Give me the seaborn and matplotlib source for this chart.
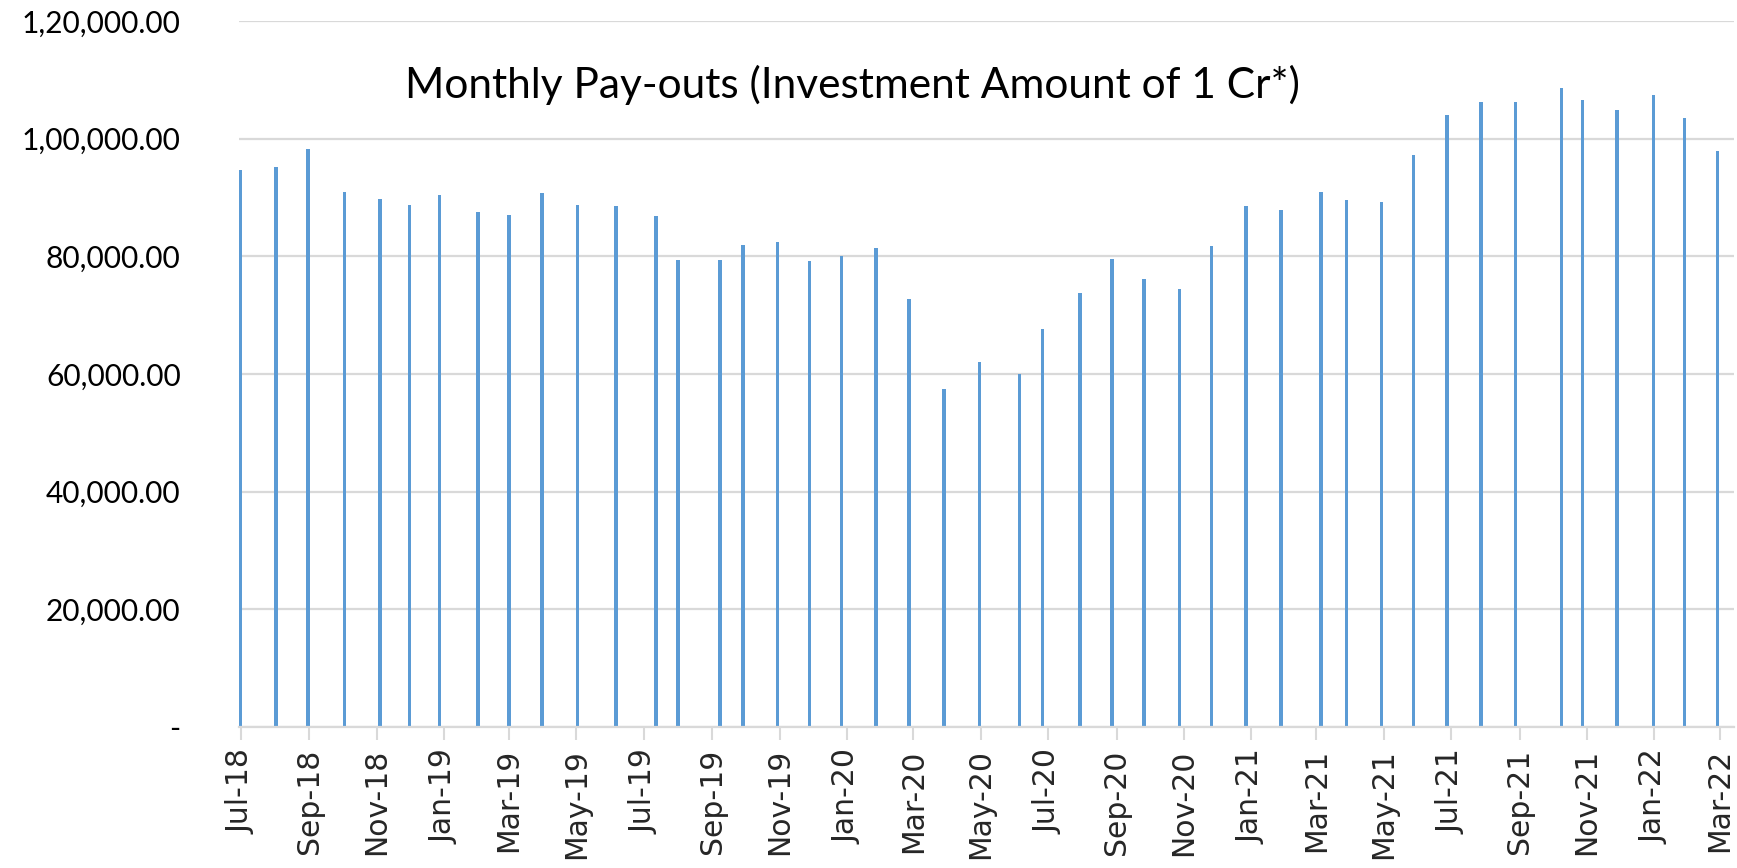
import numpy as np
import pandas as pd
import matplotlib
matplotlib.use("Agg")
import matplotlib.pyplot as plt
import matplotlib.dates as mdates
import seaborn as sns

# ---- data ----
pay_dates = [
    "2018-07-01", "2018-08-02", "2018-08-31", "2018-10-03", "2018-11-04", "2018-12-01",
    "2018-12-28", "2019-02-01", "2019-03-01", "2019-03-31", "2019-05-02", "2019-06-06",
    "2019-07-12", "2019-08-01", "2019-09-08", "2019-09-29", "2019-10-30", "2019-11-28",
    "2019-12-27", "2020-01-27", "2020-02-26", "2020-03-29", "2020-04-30", "2020-06-05",
    "2020-06-26", "2020-07-30", "2020-08-28", "2020-09-26", "2020-10-28", "2020-11-26",
    "2020-12-27", "2021-01-28", "2021-03-05", "2021-03-28", "2021-04-29", "2021-05-28",
    "2021-06-27", "2021-07-28", "2021-08-28", "2021-10-09", "2021-10-28", "2021-11-28",
    "2021-12-31", "2022-01-28", "2022-02-27",
]
payouts = [
    94600, 95200, 98200, 91000, 89700, 88700,
    90500, 87500, 87100, 90800, 88800, 88500,
    86900, 79400, 79400, 82000, 82500, 79200,
    80000, 81500, 72700, 57500, 62000, 60000,
    67600, 73800, 79600, 76200, 74500, 81800,
    88500, 87900, 91000, 89500, 89300, 97200,
    104000, 106300, 106300, 108600, 106500, 104800,
    107500, 103500, 97900,
]
y_ticks = [0, 20000, 40000, 60000, 80000, 100000, 120000]
y_tick_labels = ["-", "20,000.00", "40,000.00", "60,000.00", "80,000.00",
                 "1,00,000.00", "1,20,000.00"]
title_text = "Monthly Pay-outs (Investment Amount of 1 Cr*)"
axis_start = "2018-07-01"
axis_end = "2022-03-14"

# ---- build frame ----
dates = pd.to_datetime(pay_dates)
df = pd.DataFrame({"x": mdates.date2num(dates.to_pydatetime()), "payout": payouts})

sns.set_theme(style="white")
plt.rcParams["font.family"] = ["DejaVu Sans"]

W, H, DPI = 1737, 868, 100
fig = plt.figure(figsize=(W / DPI, H / DPI), dpi=DPI)
ax = fig.add_axes([239 / W, 1 - 727 / H, (1734 - 239) / W, (727 - 21) / H])

min_gap = np.min(np.diff(np.sort(df["x"].values)))
bar_days = 3.2
sns.barplot(data=df, x="x", y="payout", native_scale=True, color="#5B9BD5",
            saturation=1, width=bar_days / min_gap, linewidth=0, ax=ax, zorder=3)

x0 = mdates.date2num(pd.Timestamp(axis_start).to_pydatetime()) - 1.5
x1 = mdates.date2num(pd.Timestamp(axis_end).to_pydatetime())
ax.set_xlim(x0, x1)
ax.set_ylim(0, 120000)

# y axis
ax.set_yticks(y_ticks)
ax.set_yticklabels(y_tick_labels, fontfamily="Lato", fontsize=21.5, color="#000000")
ax.tick_params(axis="y", length=0, pad=42)
ax.yaxis.grid(True, color="#D9D9D9", linewidth=1.6, zorder=0)
ax.xaxis.grid(False)

# x axis (date axis)
ax.xaxis.set_major_locator(mdates.MonthLocator(bymonth=[1, 3, 5, 7, 9, 11]))
ax.xaxis.set_major_formatter(mdates.DateFormatter("%b-%y"))
ax.tick_params(axis="x", length=9, width=1.5, color="#D9D9D9", direction="out",
               pad=7, labelsize=21.5, labelrotation=90, bottom=True)
for lab in ax.get_xticklabels():
    lab.set_fontfamily("DejaVu Sans")

for side in ["left", "right", "top"]:
    ax.spines[side].set_visible(False)
ax.spines["bottom"].set_color("#D9D9D9")
ax.spines["bottom"].set_linewidth(1.6)
ax.spines["bottom"].set_zorder(4)

ax.set_xlabel("")
ax.set_ylabel("")

ax.text(0.41, 0.909, title_text, transform=ax.transAxes, ha="center", va="center",
        fontsize=30.5, fontfamily="Lato", color="#000000")

fig.savefig("out.png", dpi=DPI)
